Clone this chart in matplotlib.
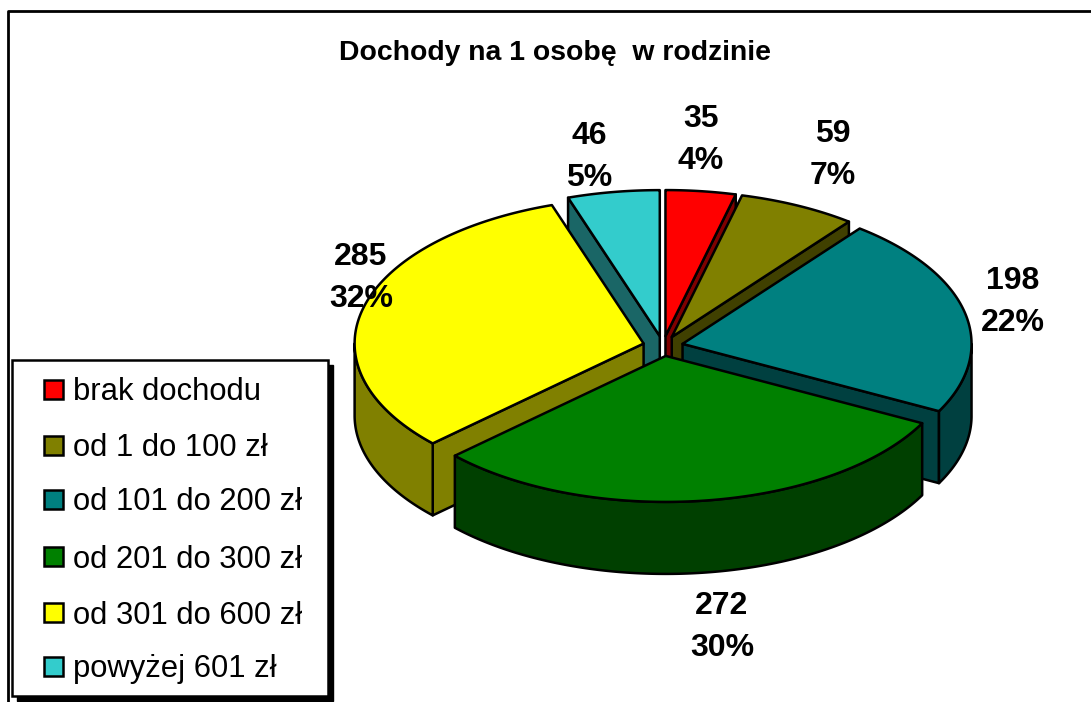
import numpy as np
import matplotlib
matplotlib.use('Agg')
import matplotlib.pyplot as plt
from matplotlib.patches import Polygon, Rectangle

plt.rcParams['font.family'] = ['Liberation Sans', 'DejaVu Sans']

title = 'Dochody na 1 osobę  w rodzinie'
categories = ['brak dochodu', 'od 1 do 100 zł', 'od 101 do 200 zł',
              'od 201 do 300 zł', 'od 301 do 600 zł', 'powyżej 601 zł']
values = [35, 59, 198, 272, 285, 46]

top_colors = ['#FF0000', '#808000', '#008080', '#008000', '#FFFF00', '#33CCCC']
side_colors = ['#800000', '#404000', '#004040', '#004000', '#808000', '#1A6666']

# where the labels and legend rows sit, in pixels
label_x = [701, 833, 1013, 722, 361, 589]
label_y = [140, 155, 302, 627, 278, 157]
legend_y = [389, 445, 499, 556, 612, 666]

# pie projection, pixels
cx, cy = 663, 346
rx, ry = 289, 146
ex, ey = 20, 10
depth = 72
lw = 1.8

fig = plt.figure(figsize=(10.91, 7.02), dpi=100)
ax = fig.add_axes([0, 0, 1, 1])
ax.set_xlim(0, 1091)
ax.set_ylim(702, 0)
ax.axis('off')


def arc(a1, a2, ox, oy):
    # angles are clockwise from the top
    t = np.radians(np.linspace(a1, a2, 200))
    return np.column_stack([ox + rx * np.sin(t), oy - ry * np.cos(t)])


def face(pts, color, z):
    ax.add_patch(Polygon(pts, closed=True, facecolor=color, edgecolor='k',
                         linewidth=lw, joinstyle='round', zorder=z))


# chart frame
ax.plot([8, 8, 1091], [702, 11, 11], color='k', linewidth=2, zorder=1)
ax.text(555, 53.5, title, fontsize=20.4, fontweight='bold', ha='center', va='center')

shares = np.array(values) / sum(values)
edges = np.concatenate([[0], np.cumsum(shares) * 360])
mids = (edges[:-1] + edges[1:]) / 2

# back slices first
order = np.argsort(-np.cos(np.radians(mids)))
z = 2
for i in order:
    a1, a2, m = edges[i], edges[i + 1], np.radians(mids[i])
    ox = cx + ex * np.sin(m)
    oy = cy - ey * np.cos(m)
    top = arc(a1, a2, ox, oy)
    apex = np.array([ox, oy])
    down = np.array([0, depth])

    # cut faces, only the ones turned to the viewer
    if np.sin(np.radians(a1)) < -1e-6:
        face([apex, top[0], top[0] + down, apex + down], side_colors[i], z)
    if np.sin(np.radians(a2)) > 1e-6:
        face([apex, top[-1], top[-1] + down, apex + down], side_colors[i], z)
    # outer wall only on the front half of the ellipse
    f1, f2 = max(a1, 90), min(a2, 270)
    if f1 < f2:
        wall = arc(f1, f2, ox, oy)
        face(np.vstack([wall, (wall + down)[::-1]]), side_colors[i], z)
    face(np.vstack([apex, top]), top_colors[i], z)
    z += 1

for i in range(len(values)):
    ax.text(label_x[i], label_y[i], f'{values[i]}\n{shares[i] * 100:.0f}%',
            fontsize=23, fontweight='bold', ha='center', va='center',
            linespacing=1.52, zorder=20)

# legend box with shadow
ax.add_patch(Rectangle((17, 365), 316, 336, facecolor='k', edgecolor='k', zorder=30))
ax.add_patch(Rectangle((12, 360), 316, 336, facecolor='w', edgecolor='k',
                       linewidth=lw, zorder=31))
for i in range(len(categories)):
    ax.add_patch(Rectangle((44, legend_y[i] - 9.5), 19, 19, facecolor=top_colors[i],
                           edgecolor='k', linewidth=lw, zorder=32))
    ax.text(73, legend_y[i], categories[i], fontsize=22.3, ha='left', va='center_baseline',
            zorder=32)

fig.savefig('out.png', dpi=100)
